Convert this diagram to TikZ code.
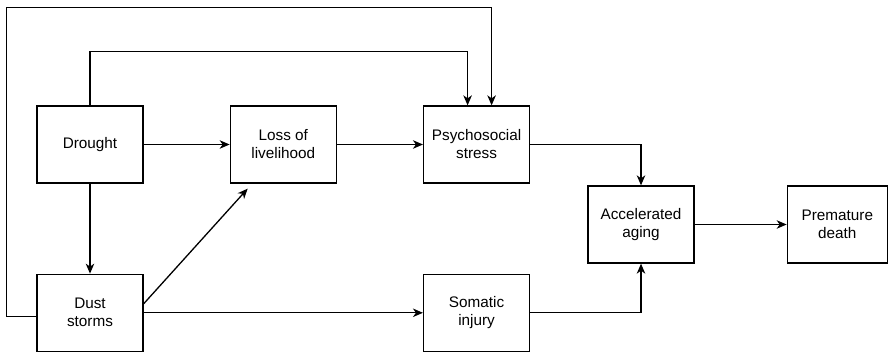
\documentclass[tikz,border=0pt]{standalone}
\usepackage{fontspec}
\setmainfont{Liberation Sans}
\usetikzlibrary{positioning,arrows.meta}

\begin{document}
\begin{tikzpicture}[x=1pt,y=-1pt,node distance=86pt,
  box/.style={rectangle,draw,line width=1.3pt,minimum width=106pt,minimum height=77pt,
    align=center,inner sep=2pt,font=\fontsize{15.3}{18}\selectfont},
  link/.style={draw,line width=1.3pt,-{Stealth[length=10pt,width=8.5pt,inset=3pt]}}]
\useasboundingbox (0,0) rectangle (888,352);
\node [box] (drought) at (90,144.5) {Drought};
\node [box,right=of drought] (loss) {Loss of\\livelihood};
\node [box,right=of loss] (stress) {Psychosocial\\stress};
\node [box,below=90pt of drought] (dust) {Dust\\storms};
\node [box] (injury) at (dust -| stress) {Somatic\\injury};
\node [box] (aging) at (641,224.5) {Accelerated\\aging};
\node [box,minimum width=100pt,right=92pt of aging] (death) {Premature\\death};

\draw [link] (drought) -- (loss);
\draw [link] (loss) -- (stress);
\draw [link] (drought) -- (dust);
\draw [link] ([yshift=9pt]dust.east) -- ([xshift=18pt,yshift=-5pt]loss.south west);
\draw [link] (dust) -- (injury);
\draw [link] (stress.east) -| (aging);
\draw [link] (injury.east) -| (aging);
\draw [link] (aging) -- (death);
\draw [link] (drought.north) -- ++(0,-54) -| ([xshift=-9pt]stress.north);
\draw [link] ([yshift=-4pt]dust.west) -- ++(-30,0) -- ++(0,-309.4) -| ([xshift=15pt]stress.north);
\end{tikzpicture}
\end{document}
